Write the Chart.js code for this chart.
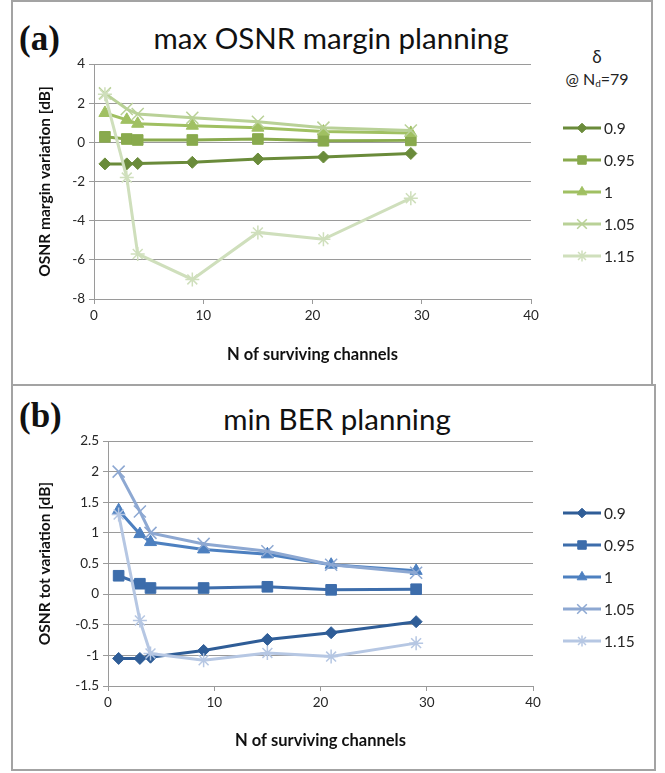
<!DOCTYPE html>
<html>
<head>
<meta charset="utf-8">
<script src="https://cdn.jsdelivr.net/npm/chart.js@4.4.1/dist/chart.umd.min.js"></script>
<style>
  body { margin: 0; width: 665px; height: 773px; position: relative; overflow: hidden; background: #fff; font-family: Lato, sans-serif; color: #111; }
  .panel { position: absolute; border: 2px solid #a3a3a3; box-sizing: border-box; }
  canvas { position: absolute; }
  .tag { position: absolute; font-family: "Liberation Serif", serif; font-weight: bold; font-size: 35px; line-height: 1; }
  .title { position: absolute; font-size: 29.5px; line-height: 1; white-space: nowrap; transform: translateX(-50%); }
  .lgtitle { position: absolute; font-size: 16px; line-height: 1; white-space: nowrap; transform: translateX(-50%); color: #222; }
  .lgtitle sub { font-size: 10px; vertical-align: -2px; }
</style>
</head>
<body>
<div class="panel" style="left:11px; top:0px; width:642px; height:386px;"></div>
<div class="panel" style="left:11px; top:384px; width:645px; height:387px;"></div>

<div class="tag" style="left:19px; top:21px;">(a)</div>
<div class="title" style="left:331px; top:23px;">max OSNR margin planning</div>
<div class="lgtitle" style="left:597px; top:48px; font-size:17px;">δ</div>
<div class="lgtitle" style="left:597px; top:71px;">@ N<sub>d</sub>=79</div>

<div class="tag" style="left:19px; top:398px;">(b)</div>
<div class="title" style="left:337px; top:404px;">min BER planning</div>

<canvas id="chartA" width="639" height="382" style="left:12px; top:2px;"></canvas>
<canvas id="chartB" width="641" height="382" style="left:12px; top:387px;"></canvas>

<script>
// x positions shared by both panels
const channels = [1, 3, 4, 9, 15, 21, 29];
const deltaLabels = ["0.9", "0.95", "1", "1.05", "1.15"];

// (a) max OSNR margin planning -> OSNR margin variation [dB]
const marginD090 = [-1.1, -1.1, -1.08, -1.02, -0.85, -0.75, -0.57];
const marginD095 = [0.28, 0.17, 0.12, 0.12, 0.17, 0.08, 0.1];
const marginD100 = [1.5, 1.15, 0.95, 0.85, 0.75, 0.55, 0.48];
const marginD105 = [2.5, 1.7, 1.45, 1.25, 1.05, 0.75, 0.6];
const marginD115 = [2.45, -1.8, -5.7, -7.0, -4.6, -4.95, -2.85];

// (b) min BER planning -> OSNR tot variation [dB]
const totD090 = [-1.05, -1.05, -1.03, -0.92, -0.74, -0.63, -0.45];
const totD095 = [0.3, 0.17, 0.1, 0.1, 0.12, 0.07, 0.08];
const totD100 = [1.37, 0.98, 0.85, 0.73, 0.65, 0.48, 0.38];
const totD105 = [2.0, 1.35, 1.0, 0.82, 0.7, 0.48, 0.35];
const totD115 = [1.3, -0.43, -0.97, -1.08, -0.96, -1.02, -0.8];

// tick labels
const xTicks = [0, 10, 20, 30, 40];
const yTicksA = [-8, -6, -4, -2, 0, 2, 4];
const yTicksB = [-1.5, -1, -0.5, 0, 0.5, 1, 1.5, 2, 2.5];

const GREENS = ["#6a8b3a", "#89aa4d", "#a0c062", "#b9d197", "#cfdfbc"];
const BLUES = ["#2f5d97", "#3d6dab", "#4d80c0", "#8da8d2", "#b6c7e3"];
const MARKERS = ["rectRot", "rect", "triangle", "crossRot", "star"];
const MARKER_R = [6, 7.5, 7, 8.5, 7];
const GRID = "#9a9a9a";
const TEXT = "#262626";

// legend drawn as line + marker samples, like the spreadsheet one
const lineLegend = {
  id: "lineLegend",
  afterDraw(chart, args, opts) {
    const ctx = chart.ctx;
    ctx.save();
    chart.data.datasets.forEach((ds, i) => {
      const y = opts.top + i * opts.gap;
      ctx.strokeStyle = ds.borderColor;
      ctx.fillStyle = ds.borderColor;
      ctx.lineWidth = ds.borderWidth;
      ctx.beginPath();
      ctx.moveTo(opts.x0, y);
      ctx.lineTo(opts.x1, y);
      ctx.stroke();
      ctx.lineWidth = ds.pointBorderWidth;
      Chart.helpers.drawPoint(ctx, {
        pointStyle: ds.pointStyle,
        radius: ds.pointRadius * 0.8,
        borderWidth: ds.pointBorderWidth,
        rotation: 0,
      }, (opts.x0 + opts.x1) / 2, y);
      ctx.fillStyle = TEXT;
      ctx.font = "15.5px Lato";
      ctx.textBaseline = "middle";
      ctx.textAlign = "left";
      ctx.fillText(ds.label, opts.x1 + 3, y + 1);
    });
    ctx.restore();
  },
};

function buildDatasets(series, colors) {
  return series.map((vals, i) => ({
    label: deltaLabels[i],
    data: vals.map((v, j) => ({ x: channels[j], y: v })),
    borderColor: colors[i],
    backgroundColor: colors[i],
    borderWidth: 3,
    pointStyle: MARKERS[i],
    pointRadius: MARKER_R[i],
    pointBackgroundColor: colors[i],
    pointBorderColor: colors[i],
    pointBorderWidth: i >= 3 ? 1.5 : 1,
    tension: 0,
    order: series.length - 1 - i,
  }));
}

// "2", "1.5", "-0.5" ... without trailing zeros
const plainNum = (v) => String(Number(v.toFixed(2)));

function makeChart(id, series, colors, yTicks, yTitle, box) {
  const canvas = document.getElementById(id);
  new Chart(canvas, {
    type: "line",
    data: { datasets: buildDatasets(series, colors) },
    plugins: [lineLegend],
    options: {
      responsive: false,
      animation: false,
      layout: { padding: { left: 0, top: box.top, right: box.right, bottom: 0 } },
      plugins: {
        legend: { display: false },
        tooltip: { enabled: false },
        lineLegend: { x0: 551, x1: 589, top: 126, gap: 32 },
      },
      scales: {
        x: {
          type: "linear",
          min: xTicks[0],
          max: xTicks[xTicks.length - 1],
          afterFit: (s) => { s.height = box.xh; },
          ticks: { stepSize: xTicks[1] - xTicks[0], color: TEXT, font: { family: "Lato", size: 13.5 }, padding: 4, maxRotation: 0, callback: plainNum },
          grid: { drawOnChartArea: false, drawTicks: true, tickLength: 5, color: GRID },
          border: { color: GRID },
          title: { display: true, text: "N of surviving channels", color: "#111",
            font: { family: "Lato", size: 16.5, weight: "bold" }, padding: { top: 0, bottom: box.xtp } },
        },
        y: {
          min: yTicks[0],
          max: yTicks[yTicks.length - 1],
          afterFit: (s) => { s.width = box.yw; },
          ticks: { stepSize: yTicks[1] - yTicks[0], color: TEXT, font: { family: "Lato", size: 13.5 }, padding: 4, callback: plainNum },
          grid: { color: GRID, tickLength: 5 },
          border: { color: GRID },
          title: { display: true, text: yTitle, color: "#111",
            font: { family: "Lato", size: 15.5, weight: "bold" }, padding: { top: 23.7, bottom: 0 } },
        },
      },
    },
  });
}

makeChart("chartA",
  [marginD090, marginD095, marginD100, marginD105, marginD115],
  GREENS, yTicksA, "OSNR margin variation [dB]",
  { top: 62, right: 120, xh: 85, yw: 82, xtp: 19 });

makeChart("chartB",
  [totD090, totD095, totD100, totD105, totD115],
  BLUES, yTicksB, "OSNR tot variation [dB]",
  { top: 54, right: 120, xh: 83, yw: 96, xtp: 18 });
</script>
</body>
</html>
